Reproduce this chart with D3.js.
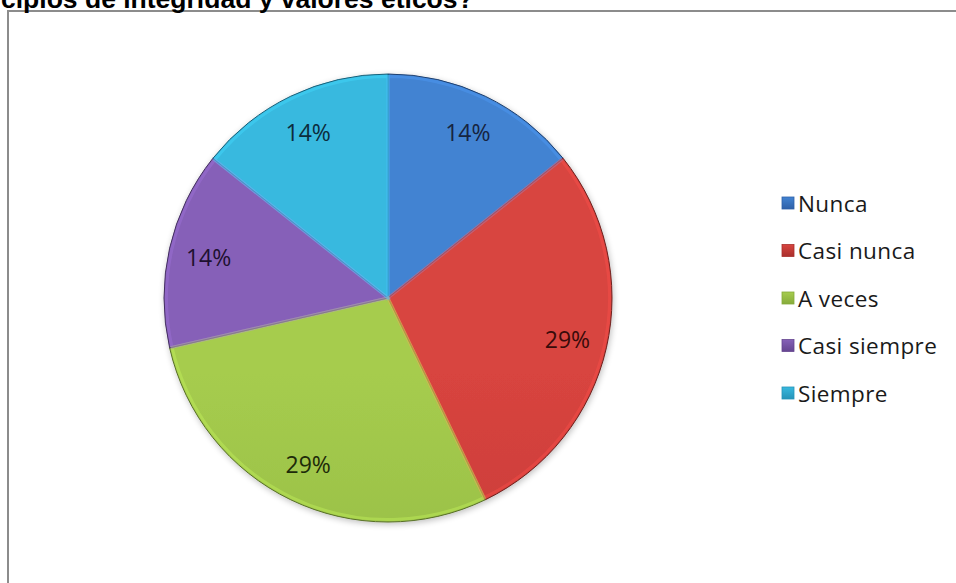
<!DOCTYPE html>
<html>
<head>
<meta charset="utf-8">
<script src="https://cdn.jsdelivr.net/npm/d3@7/dist/d3.min.js"></script>
<style>
  html, body { margin: 0; padding: 0; background: #ffffff; }
  svg { display: block; }
</style>
</head>
<body>
<svg id="chart" width="956" height="583"></svg>
<script>
// Survey answers (respondent counts) and their shares
const categories = ["Nunca", "Casi nunca", "A veces", "Casi siempre", "Siempre"];
const counts = [1, 2, 2, 1, 1];
const percentLabels = ["14%", "29%", "29%", "14%", "14%"];
const titleText = "cipios de integridad y valores éticos?";

// Slice palette: light (top), mid, dark (bottom)
const paletteTop = ["#4283d2", "#d8443f", "#a6cc4e", "#8661b8", "#38b9df"];
const paletteMid = ["#3773c3", "#c83c38", "#97be46", "#7752a7", "#2fa8ce"];
const paletteBot = ["#2e60a8", "#a92f2c", "#86ab3b", "#654590", "#2793b8"];
const labelInk = ["#16243f", "#380b0a", "#1d2a09", "#1e1130", "#0c2c3d"];

const svg = d3.select("#chart");
const W = 956, H = 583;
const cx = 388, cy = 298, R = 224;

// chart frame
svg.append("rect")
  .attr("x", 8).attr("y", 11)
  .attr("width", W + 20).attr("height", H + 20)
  .attr("fill", "#ffffff")
  .attr("stroke", "#8c8c8c")
  .attr("stroke-width", 2);

// title (partly above the frame)
svg.append("text")
  .attr("x", 1).attr("y", 8)
  .attr("font-family", "Liberation Sans, Arial, sans-serif")
  .attr("font-weight", "bold")
  .attr("font-size", 26.5)
  .attr("fill", "#000")
  .text(titleText);

const defs = svg.append("defs");
categories.forEach((c, i) => {
  const g = defs.append("linearGradient")
    .attr("id", "grad" + i)
    .attr("gradientUnits", "userSpaceOnUse")
    .attr("x1", 0).attr("y1", cy - R)
    .attr("x2", 0).attr("y2", cy + R);
  g.append("stop").attr("offset", "0%").attr("stop-color", paletteTop[i]);
  g.append("stop").attr("offset", "50%").attr("stop-color", paletteMid[i]);
  g.append("stop").attr("offset", "100%").attr("stop-color", paletteBot[i]);
  const lg = defs.append("linearGradient")
    .attr("id", "lg" + i)
    .attr("x1", 0).attr("y1", 0).attr("x2", 0).attr("y2", 1);
  lg.append("stop").attr("offset", "0%").attr("stop-color", paletteTop[i]);
  lg.append("stop").attr("offset", "100%").attr("stop-color", paletteBot[i]);
});

// soft drop shadow under the pie
const shadow = defs.append("filter").attr("id", "shadow")
  .attr("x", "-10%").attr("y", "-10%").attr("width", "120%").attr("height", "120%");
shadow.append("feGaussianBlur").attr("in", "SourceAlpha").attr("stdDeviation", 3).attr("result", "b");
shadow.append("feOffset").attr("in", "b").attr("dx", 1).attr("dy", 2).attr("result", "o");
shadow.append("feComponentTransfer").attr("in", "o").attr("result", "s")
  .append("feFuncA").attr("type", "linear").attr("slope", 0.25);
const merge = shadow.append("feMerge");
merge.append("feMergeNode").attr("in", "s");
merge.append("feMergeNode").attr("in", "SourceGraphic");

const pie = d3.pie().sort(null).value(d => d);
const arcs = pie(counts);
const arc = d3.arc().innerRadius(0).outerRadius(R);
const bevel = d3.arc().innerRadius(0).outerRadius(R - 2.5);
const labelArc = d3.arc().innerRadius(184).outerRadius(184);

const gPie = svg.append("g").attr("transform", `translate(${cx},${cy})`);

gPie.append("g").attr("filter", "url(#shadow)")
  .selectAll("path.slice")
  .data(arcs)
  .join("path")
  .attr("class", "slice")
  .attr("d", arc)
  .attr("fill", (d, i) => `url(#grad${i})`)
  .attr("stroke", (d, i) => d3.color(paletteBot[i]).darker(1.2))
  .attr("stroke-width", 1);

// soft highlight along slice edges
gPie.selectAll("path.bevel")
  .data(arcs)
  .join("path")
  .attr("class", "bevel")
  .attr("d", bevel)
  .attr("fill", "none")
  .attr("stroke", (d, i) => d3.color(paletteTop[i]).brighter(0.5))
  .attr("stroke-opacity", 0.4)
  .attr("stroke-width", 3);

gPie.selectAll("text.pct")
  .data(arcs)
  .join("text")
  .attr("class", "pct")
  .attr("transform", d => `translate(${labelArc.centroid(d)})`)
  .attr("text-anchor", "middle")
  .attr("dominant-baseline", "central")
  .attr("font-family", "'Open Sans', Lato, sans-serif")
  .attr("font-size", 23)
  .attr("fill", (d, i) => labelInk[i])
  .text((d, i) => percentLabels[i]);

// legend
const legend = svg.append("g").attr("transform", "translate(782,203)");
const rows = legend.selectAll("g.row")
  .data(categories)
  .join("g")
  .attr("class", "row")
  .attr("transform", (d, i) => `translate(0,${i * 47.5})`);

rows.append("rect")
  .attr("x", 0).attr("y", -6)
  .attr("width", 12).attr("height", 12)
  .attr("fill", (d, i) => `url(#lg${i})`)
  .attr("stroke", (d, i) => paletteBot[i])
  .attr("stroke-width", 0.8);

rows.append("text")
  .attr("x", 16).attr("y", 0)
  .attr("dominant-baseline", "central")
  .attr("font-family", "'Open Sans', Lato, sans-serif")
  .attr("font-size", 22.5)
  .attr("letter-spacing", 0.4)
  .attr("fill", "#1a1a1a")
  .text(d => d);
</script>
</body>
</html>
